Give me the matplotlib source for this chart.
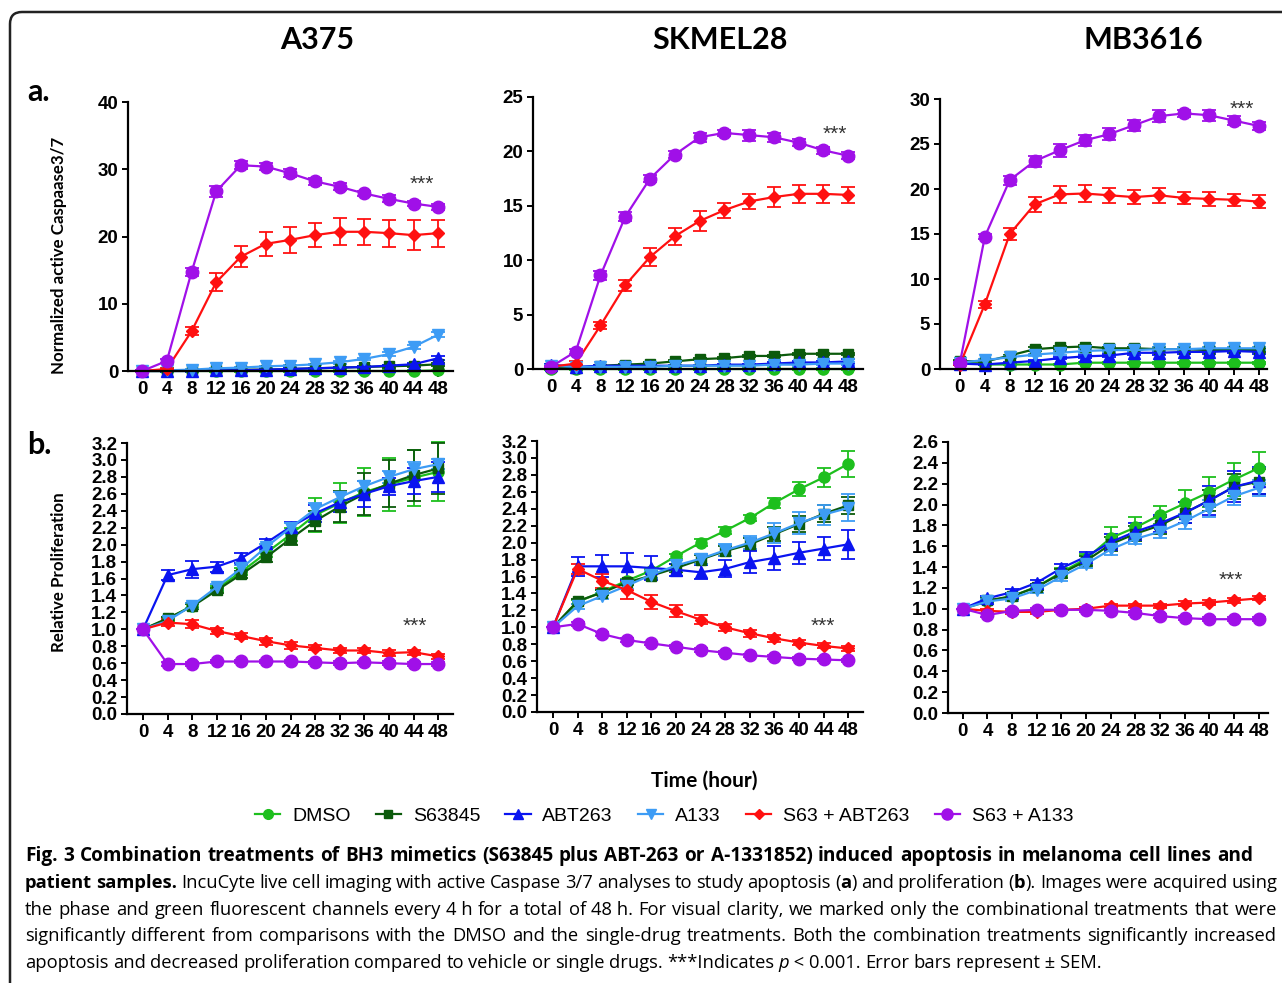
import re
import matplotlib
matplotlib.use("Agg")
import matplotlib.pyplot as plt
from matplotlib.lines import Line2D
from matplotlib.patches import FancyBboxPatch

hours = list(range(0, 49, 4))
treatments = ["DMSO", "S63845", "ABT263", "A133", "S63 + ABT263", "S63 + A133"]
cell_lines = ["A375", "SKMEL28", "MB3616"]

# ---- panel a: normalized active caspase 3/7 ----
a375_casp = {
    "DMSO": [0.0, 0.0, 0.0, 0.0, 0.0, 0.0, 0.0, 0.0, 0.0, 0.0, 0.0, 0.0, 0.1],
    "S63845": [0.0, 0.0, 0.1, 0.1, 0.2, 0.2, 0.3, 0.4, 0.5, 0.6, 0.7, 0.8, 1.0],
    "ABT263": [0.0, 0.0, 0.0, 0.1, 0.1, 0.2, 0.3, 0.4, 0.5, 0.6, 0.8, 1.0, 1.9],
    "A133": [0.0, 0.1, 0.2, 0.4, 0.5, 0.7, 0.8, 1.0, 1.3, 1.8, 2.5, 3.6, 5.4],
    "S63 + ABT263": [0.0, 0.3, 5.9, 13.2, 17.0, 18.9, 19.5, 20.2, 20.7, 20.7, 20.5, 20.2, 20.5],
    "S63 + A133": [0.0, 1.5, 14.7, 26.7, 30.6, 30.4, 29.4, 28.2, 27.4, 26.4, 25.6, 24.9, 24.4],
}
a375_casp_err = {
    "DMSO": [0.1, 0.1, 0.1, 0.1, 0.1, 0.1, 0.1, 0.1, 0.1, 0.1, 0.1, 0.1, 0.1],
    "S63845": [0.1, 0.1, 0.1, 0.1, 0.1, 0.1, 0.1, 0.1, 0.1, 0.2, 0.2, 0.2, 0.2],
    "ABT263": [0.1, 0.1, 0.1, 0.1, 0.1, 0.1, 0.1, 0.1, 0.1, 0.1, 0.1, 0.2, 0.3],
    "A133": [0.1, 0.1, 0.1, 0.1, 0.1, 0.1, 0.1, 0.1, 0.2, 0.2, 0.3, 0.3, 0.4],
    "S63 + ABT263": [0.1, 0.2, 0.6, 1.3, 1.6, 1.8, 1.9, 1.8, 2.0, 1.9, 2.0, 2.2, 2.0],
    "S63 + A133": [0.1, 0.3, 0.6, 0.8, 0.6, 0.5, 0.6, 0.5, 0.5, 0.4, 0.5, 0.4, 0.4],
}
skmel28_casp = {
    "DMSO": [0.0, 0.0, 0.0, 0.0, 0.0, 0.0, 0.0, 0.0, 0.0, 0.0, 0.0, 0.0, 0.0],
    "S63845": [0.2, 0.1, 0.3, 0.4, 0.5, 0.7, 0.9, 1.0, 1.2, 1.2, 1.4, 1.4, 1.4],
    "ABT263": [0.4, 0.2, 0.3, 0.3, 0.3, 0.3, 0.3, 0.4, 0.4, 0.5, 0.6, 0.6, 0.7],
    "A133": [0.3, 0.2, 0.2, 0.2, 0.2, 0.3, 0.3, 0.3, 0.3, 0.4, 0.4, 0.5, 0.5],
    "S63 + ABT263": [0.2, 0.5, 4.0, 7.7, 10.3, 12.2, 13.6, 14.6, 15.4, 15.8, 16.1, 16.1, 16.0],
    "S63 + A133": [0.2, 1.6, 8.6, 14.0, 17.5, 19.7, 21.3, 21.7, 21.5, 21.3, 20.8, 20.1, 19.6],
}
skmel28_casp_err = {
    "DMSO": [0.1, 0.1, 0.1, 0.1, 0.1, 0.1, 0.1, 0.1, 0.1, 0.1, 0.1, 0.1, 0.1],
    "S63845": [0.1, 0.1, 0.1, 0.1, 0.1, 0.1, 0.1, 0.1, 0.1, 0.1, 0.1, 0.1, 0.1],
    "ABT263": [0.1, 0.1, 0.1, 0.1, 0.1, 0.1, 0.1, 0.1, 0.1, 0.1, 0.1, 0.1, 0.2],
    "A133": [0.1, 0.1, 0.1, 0.1, 0.1, 0.1, 0.1, 0.1, 0.1, 0.1, 0.1, 0.1, 0.1],
    "S63 + ABT263": [0.1, 0.2, 0.3, 0.5, 0.8, 0.8, 0.9, 0.7, 0.7, 0.9, 0.8, 0.8, 0.7],
    "S63 + A133": [0.1, 0.2, 0.4, 0.4, 0.3, 0.3, 0.4, 0.3, 0.5, 0.4, 0.3, 0.3, 0.3],
}
mb3616_casp = {
    "DMSO": [0.8, 0.5, 0.5, 0.5, 0.5, 0.7, 0.7, 0.7, 0.7, 0.7, 0.7, 0.7, 0.7],
    "S63845": [0.9, 0.8, 1.5, 2.2, 2.4, 2.5, 2.3, 2.3, 2.2, 2.2, 2.1, 2.1, 2.1],
    "ABT263": [0.6, 0.5, 0.7, 0.9, 1.2, 1.4, 1.5, 1.8, 1.8, 1.9, 1.9, 2.0, 1.9],
    "A133": [0.7, 1.0, 1.3, 1.6, 1.8, 2.0, 2.1, 2.1, 2.2, 2.2, 2.3, 2.3, 2.3],
    "S63 + ABT263": [0.5, 7.2, 15.0, 18.3, 19.4, 19.5, 19.3, 19.1, 19.3, 19.0, 18.9, 18.8, 18.6],
    "S63 + A133": [0.7, 14.7, 21.0, 23.1, 24.3, 25.4, 26.1, 27.1, 28.1, 28.4, 28.2, 27.6, 27.0],
}
mb3616_casp_err = {
    "DMSO": [0.1, 0.1, 0.1, 0.1, 0.1, 0.1, 0.1, 0.1, 0.1, 0.1, 0.1, 0.1, 0.1],
    "S63845": [0.1, 0.1, 0.1, 0.2, 0.2, 0.2, 0.2, 0.2, 0.2, 0.2, 0.2, 0.2, 0.2],
    "ABT263": [0.1, 0.1, 0.1, 0.1, 0.1, 0.2, 0.2, 0.2, 0.2, 0.2, 0.2, 0.2, 0.2],
    "A133": [0.1, 0.1, 0.1, 0.1, 0.2, 0.2, 0.2, 0.2, 0.2, 0.2, 0.2, 0.2, 0.2],
    "S63 + ABT263": [0.1, 0.4, 0.7, 0.8, 0.9, 0.9, 0.8, 0.8, 0.8, 0.7, 0.8, 0.7, 0.7],
    "S63 + A133": [0.1, 0.3, 0.5, 0.6, 0.7, 0.6, 0.7, 0.6, 0.7, 0.4, 0.6, 0.5, 0.4],
}

# ---- panel b: relative proliferation ----
a375_prolif = {
    "DMSO": [1.0, 1.12, 1.28, 1.48, 1.68, 1.90, 2.12, 2.35, 2.49, 2.62, 2.71, 2.79, 2.86],
    "S63845": [1.0, 1.13, 1.27, 1.46, 1.65, 1.85, 2.07, 2.28, 2.45, 2.60, 2.72, 2.82, 2.90],
    "ABT263": [1.0, 1.64, 1.71, 1.74, 1.84, 2.02, 2.21, 2.37, 2.50, 2.60, 2.69, 2.75, 2.80],
    "A133": [1.0, 1.10, 1.28, 1.50, 1.72, 1.97, 2.20, 2.42, 2.56, 2.69, 2.80, 2.89, 2.95],
    "S63 + ABT263": [1.0, 1.08, 1.06, 0.98, 0.92, 0.86, 0.81, 0.78, 0.75, 0.75, 0.72, 0.73, 0.68],
    "S63 + A133": [1.0, 0.59, 0.59, 0.62, 0.62, 0.62, 0.62, 0.61, 0.60, 0.61, 0.60, 0.59, 0.59],
}
a375_prolif_err = {
    "DMSO": [0.0, 0.02, 0.03, 0.03, 0.04, 0.05, 0.08, 0.20, 0.24, 0.28, 0.31, 0.33, 0.35],
    "S63845": [0.0, 0.02, 0.03, 0.03, 0.04, 0.05, 0.08, 0.12, 0.18, 0.25, 0.28, 0.30, 0.30],
    "ABT263": [0.0, 0.06, 0.10, 0.06, 0.06, 0.05, 0.06, 0.10, 0.12, 0.15, 0.10, 0.15, 0.18],
    "A133": [0.0, 0.02, 0.03, 0.03, 0.04, 0.04, 0.05, 0.07, 0.06, 0.06, 0.07, 0.08, 0.06],
    "S63 + ABT263": [0.0, 0.04, 0.05, 0.04, 0.04, 0.04, 0.04, 0.03, 0.03, 0.03, 0.03, 0.03, 0.03],
    "S63 + A133": [0.0, 0.02, 0.02, 0.02, 0.02, 0.02, 0.02, 0.02, 0.02, 0.02, 0.02, 0.02, 0.02],
}
skmel28_prolif = {
    "DMSO": [1.0, 1.30, 1.42, 1.55, 1.67, 1.84, 2.00, 2.14, 2.29, 2.47, 2.63, 2.77, 2.93],
    "S63845": [1.0, 1.31, 1.41, 1.53, 1.61, 1.70, 1.80, 1.90, 1.98, 2.10, 2.22, 2.34, 2.44],
    "ABT263": [1.0, 1.72, 1.72, 1.72, 1.70, 1.68, 1.65, 1.69, 1.77, 1.82, 1.88, 1.93, 1.98],
    "A133": [1.0, 1.25, 1.37, 1.49, 1.62, 1.73, 1.81, 1.91, 2.00, 2.11, 2.23, 2.33, 2.41],
    "S63 + ABT263": [1.0, 1.69, 1.55, 1.44, 1.30, 1.19, 1.09, 1.00, 0.93, 0.87, 0.82, 0.78, 0.75],
    "S63 + A133": [1.0, 1.04, 0.92, 0.85, 0.81, 0.77, 0.73, 0.70, 0.67, 0.65, 0.63, 0.62, 0.61],
}
skmel28_prolif_err = {
    "DMSO": [0.0, 0.02, 0.02, 0.02, 0.02, 0.03, 0.04, 0.04, 0.04, 0.06, 0.08, 0.11, 0.15],
    "S63845": [0.0, 0.03, 0.03, 0.03, 0.03, 0.05, 0.05, 0.06, 0.07, 0.08, 0.10, 0.10, 0.10],
    "ABT263": [0.0, 0.11, 0.13, 0.16, 0.14, 0.07, 0.08, 0.10, 0.13, 0.14, 0.13, 0.14, 0.17],
    "A133": [0.0, 0.03, 0.03, 0.04, 0.04, 0.06, 0.06, 0.07, 0.08, 0.12, 0.13, 0.12, 0.16],
    "S63 + ABT263": [0.0, 0.06, 0.08, 0.10, 0.08, 0.07, 0.05, 0.04, 0.04, 0.04, 0.03, 0.03, 0.03],
    "S63 + A133": [0.0, 0.02, 0.02, 0.02, 0.02, 0.02, 0.02, 0.02, 0.02, 0.02, 0.02, 0.02, 0.02],
}
mb3616_prolif = {
    "DMSO": [1.0, 1.07, 1.12, 1.21, 1.35, 1.48, 1.68, 1.78, 1.90, 2.01, 2.12, 2.24, 2.35],
    "S63845": [1.0, 1.08, 1.12, 1.21, 1.34, 1.46, 1.62, 1.72, 1.80, 1.92, 2.04, 2.17, 2.22],
    "ABT263": [1.0, 1.10, 1.16, 1.25, 1.39, 1.50, 1.64, 1.74, 1.82, 1.92, 2.04, 2.17, 2.23],
    "A133": [1.0, 1.07, 1.10, 1.18, 1.31, 1.43, 1.57, 1.67, 1.74, 1.84, 1.96, 2.08, 2.16],
    "S63 + ABT263": [1.0, 0.98, 0.97, 0.97, 0.99, 1.00, 1.03, 1.03, 1.03, 1.05, 1.06, 1.08, 1.10],
    "S63 + A133": [1.0, 0.94, 0.98, 0.99, 0.99, 0.99, 0.98, 0.96, 0.93, 0.91, 0.90, 0.90, 0.90],
}
mb3616_prolif_err = {
    "DMSO": [0.0, 0.02, 0.03, 0.03, 0.04, 0.05, 0.10, 0.10, 0.09, 0.13, 0.14, 0.16, 0.15],
    "S63845": [0.0, 0.02, 0.03, 0.03, 0.04, 0.05, 0.07, 0.07, 0.08, 0.10, 0.10, 0.12, 0.12],
    "ABT263": [0.0, 0.02, 0.03, 0.03, 0.04, 0.04, 0.08, 0.08, 0.08, 0.10, 0.14, 0.15, 0.13],
    "A133": [0.0, 0.02, 0.03, 0.03, 0.04, 0.04, 0.05, 0.05, 0.06, 0.07, 0.08, 0.08, 0.08],
    "S63 + ABT263": [0.0, 0.02, 0.02, 0.02, 0.02, 0.02, 0.02, 0.02, 0.02, 0.02, 0.02, 0.02, 0.02],
    "S63 + A133": [0.0, 0.02, 0.02, 0.02, 0.02, 0.02, 0.02, 0.02, 0.02, 0.02, 0.02, 0.02, 0.02],
}

caption_lines = [
    "<b>Fig. 3 Combination treatments of BH3 mimetics (S63845 plus ABT-263 or A-1331852) induced apoptosis in melanoma cell lines and</b>",
    "<b>patient samples.</b> IncuCyte live cell imaging with active Caspase 3/7 analyses to study apoptosis (<b>a</b>) and proliferation (<b>b</b>). Images were acquired using",
    "the phase and green fluorescent channels every 4\u00a0h for a total of 48\u00a0h. For visual clarity, we marked only the combinational treatments that were",
    "significantly different from comparisons with the DMSO and the single-drug treatments. Both the combination treatments significantly increased",
    "apoptosis and decreased proliferation compared to vehicle or single drugs. ***Indicates <i>p</i>\u00a0<\u00a00.001. Error bars represent\u00a0±\u00a0SEM.",
]

# styling
colors = {"DMSO": "#1dbf1d", "S63845": "#0b5a0b", "ABT263": "#0a14f0",
          "A133": "#3d9cf5", "S63 + ABT263": "#ff1010", "S63 + A133": "#a010e8"}
markers = {"DMSO": ("o", 8), "S63845": ("s", 7), "ABT263": ("^", 8),
           "A133": ("v", 8), "S63 + ABT263": ("D", 6), "S63 + A133": ("o", 9)}
TICK_FONT = ["Liberation Sans Narrow", "Liberation Sans", "DejaVu Sans"]
HEAD_FONT = ["Lato", "DejaVu Sans"]
CAP_FONT = ["Open Sans", "DejaVu Sans"]

W, H = 1282, 983
fig = plt.figure(figsize=(W / 100, H / 100), dpi=100)
fig.patch.set_facecolor("white")


def px_axes(left, right, top, bottom):
    return fig.add_axes([left / W, 1 - bottom / H, (right - left) / W, (bottom - top) / H])


def draw_panel(ax, values, errors, ytop, ystep, xlim, fmt, star_xy):
    for name in treatments:
        m, ms = markers[name]
        cont = ax.errorbar(hours, values[name], yerr=errors[name], color=colors[name],
                           marker=m, ms=ms, lw=1.6, elinewidth=1.3, capsize=5,
                           capthick=1.3, mec=colors[name])
        for art in cont.get_children():
            art.set_clip_on(False)
    ax.set_xlim(*xlim)
    ax.set_ylim(0, ytop)
    ax.set_xticks(hours)
    nticks = int(round(ytop / ystep)) + 1
    yt = [i * ystep for i in range(nticks)]
    ax.set_yticks(yt)
    ax.set_yticklabels([fmt % v for v in yt])
    for s in ["top", "right"]:
        ax.spines[s].set_visible(False)
    for s in ["left", "bottom"]:
        ax.spines[s].set_linewidth(1.6)
    ax.tick_params(direction="out", length=4, width=1.4, labelsize=13.5, pad=3)
    for lab in ax.get_xticklabels() + ax.get_yticklabels():
        lab.set_fontfamily(TICK_FONT)
        lab.set_fontweight("bold")
    ax.text(star_xy[0], star_xy[1], "***", ha="center", va="center",
            fontsize=15, color="#333333", family=TICK_FONT)


# top row (caspase)
ax = px_axes(128, 453, 102, 371)
draw_panel(ax, a375_casp, a375_casp_err, 40, 10, (-2.3, 50.4), "%d", (45.4, 27.8))
ax = px_axes(533, 863, 97, 369)
draw_panel(ax, skmel28_casp, skmel28_casp_err, 25, 5, (-2.9, 50.4), "%d", (45.9, 21.6))
ax = px_axes(940, 1267, 99, 369)
draw_panel(ax, mb3616_casp, mb3616_casp_err, 30, 5, (-3.2, 49.3), "%d", (45.3, 28.9))

# bottom row (proliferation)
ax = px_axes(127, 453, 443, 714)
draw_panel(ax, a375_prolif, a375_prolif_err, 3.2, 0.2, (-2.6, 50.4), "%.1f", (44.2, 1.03))
ax = px_axes(537, 863, 441, 712)
draw_panel(ax, skmel28_prolif, skmel28_prolif_err, 3.2, 0.2, (-2.6, 50.4), "%.1f", (43.8, 1.01))
ax = px_axes(948, 1268, 442, 713)
draw_panel(ax, mb3616_prolif, mb3616_prolif_err, 2.6, 0.2, (-2.4, 49.5), "%.1f", (43.4, 1.27))

# headings and labels
for name, xc in zip(cell_lines, [317, 720, 1143]):
    fig.text(xc / W, 1 - 40 / H, name, ha="center", va="center", fontsize=22,
             fontweight="bold", family=HEAD_FONT)
fig.text(27 / W, 1 - 92 / H, "a.", ha="left", va="center", fontsize=22,
         fontweight="bold", family=HEAD_FONT)
fig.text(27 / W, 1 - 445 / H, "b.", ha="left", va="center", fontsize=22,
         fontweight="bold", family=HEAD_FONT)
fig.text(59 / W, 1 - 255 / H, "Normalized active Caspaase3/7", rotation=90,
         ha="center", va="center", fontsize=12.2, fontweight="bold", family=HEAD_FONT)
fig.text(59 / W, 1 - 572 / H, "Relative Proliferation", rotation=90,
         ha="center", va="center", fontsize=12.2, fontweight="bold", family=HEAD_FONT)
fig.text(704 / W, 1 - 781 / H, "Time (hour)", ha="center", va="center",
         fontsize=15, fontweight="bold", family=HEAD_FONT)

handles = [Line2D([], [], color=colors[n], marker=markers[n][0], ms=markers[n][1] - 1,
                  lw=1.6) for n in treatments]
fig.legend(handles, treatments, loc="center", bbox_to_anchor=(664 / W, 1 - 816 / H),
           ncol=6, frameon=False, handlelength=1.3, handletextpad=0.6,
           columnspacing=1.3, prop={"family": TICK_FONT[1:], "size": 14})


# caption, justified word by word
def parse_words(line):
    words, bold, ital = [], False, False
    for raw in line.split(" "):
        segs = []
        for part in re.split(r"(<b>|</b>|<i>|</i>)", raw):
            if part == "<b>":
                bold = True
            elif part == "</b>":
                bold = False
            elif part == "<i>":
                ital = True
            elif part == "</i>":
                ital = False
            elif part:
                segs.append((part, bold, ital))
        words.append(segs)
    return words


renderer = fig.canvas.get_renderer()
x_left = 25
line_sizes = [13.7, 13.2, 13.2, 13.2, 13.2]
right_edges = [1253, 1277, 1277, 1277, None]
for i, line in enumerate(caption_lines):
    yb = 861 + i * 26.8
    placed = []
    for word in parse_words(line):
        items = []
        for txt, b, it in word:
            t = fig.text(0, 1 - yb / H, txt, fontsize=line_sizes[i], family=CAP_FONT,
                         fontweight="bold" if b else "normal",
                         fontstyle="italic" if it else "normal", va="baseline")
            items.append((t, t.get_window_extent(renderer=renderer).width))
        placed.append(items)
    total = sum(w for items in placed for _, w in items)
    if right_edges[i] is not None:
        gap = max((right_edges[i] - x_left - total) / (len(placed) - 1), 3.5)
    else:
        gap = 4.4
    x = x_left
    for items in placed:
        for t, w in items:
            t.set_x(x / W)
            x += w
        x += gap

# rounded frame around the figure
frame = FancyBboxPatch((0.1, -0.4), 13.5, 10.11, boxstyle="round,pad=0,rounding_size=0.12",
                       transform=fig.dpi_scale_trans, fc="none", ec="#222222", lw=1.8)
fig.add_artist(frame)

fig.savefig("out.png", dpi=100)
